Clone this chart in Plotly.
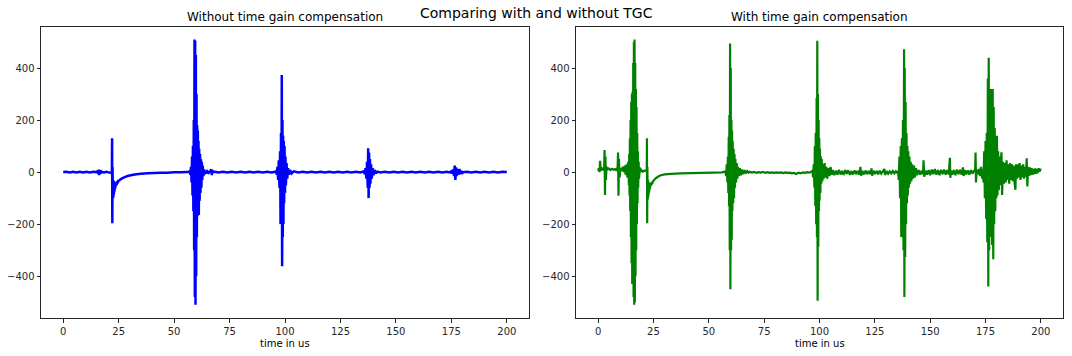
import plotly.graph_objects as go

# ================= Without TGC (blue) =================
blue_t_start = [0, 1.5, 3, 4.5, 6, 7.5, 9, 10.5, 12, 13.5, 15]
blue_v_start = [0, 1, -1, 1, -1, 1, -1, 1, -1, 1, 0]

blue_t_e16 = [15.5, 15.8, 16.0, 16.2, 16.4, 16.6, 16.8, 17.0, 17.3, 17.6, 18.5, 19.5, 20.5, 21.5]
blue_v_e16 = [3, -6, 10, -12, 9, -8, 6, -4, 2, 0, -1, 1, -1, -3]

blue_t_e22 = [21.95, 22.05, 22.15, 22.25, 22.35, 22.45, 22.55, 22.65, 22.75, 22.85, 22.95, 23.1,
              23.25, 23.4, 23.55, 23.7, 23.9, 24.1, 24.3, 24.5, 24.75, 25, 26, 27, 28, 29, 31,
              33, 35, 38, 41, 44, 47, 50, 53, 56]
blue_v_e22 = [0, 130, -197, 20, -60, -100, -30, -95, -35, -85, -38, -75,
              -40, -65, -40, -55, -38, -50, -36, -44, -34, -34, -27, -22, -18, -15, -11,
              -8, -6, -4, -3, -2, -2, -1, -1, 0]

blue_t_e60 = [57.0, 57.3, 57.6, 57.9, 58.1, 58.3, 58.5, 58.7, 58.9, 59.05, 59.2, 59.35, 59.5,
              59.65, 59.8, 59.95, 60.1, 60.25, 60.4, 60.55, 60.7, 60.85, 61.0, 61.15, 61.3,
              61.5, 61.7, 61.9, 62.1, 62.3, 62.5, 62.7, 62.9, 63.2, 63.5, 63.8, 64.2, 64.6,
              65.0, 65.6, 66.2, 66.8, 67.0, 67.2, 67.5]
blue_v_e60 = [3, -10, 20, -40, 60, -90, 100, -150, 200, -300, 510, -480, 505,
              -510, 450, -400, 300, -250, 180, -170, 160, -120, 120, -165, 90,
              -110, 70, -80, 50, -60, 40, -30, 25, -15, 10, -8, 6, -5,
              3, -3, 3, 10, -12, 8, 0]

blue_t_q1 = [68.5, 70, 72, 74, 76, 78, 80, 82, 84, 86, 88, 90, 92, 94, 95.5]
blue_v_q1 = [1, -1, 1, -1, 1, -1, 1, -1, 1, -1, 1, -1, 1, -1, 1]

blue_t_e99 = [96.0, 96.3, 96.6, 96.9, 97.2, 97.5, 97.8, 98.0, 98.2, 98.4, 98.55, 98.7, 98.85,
              99.0, 99.15, 99.3, 99.45, 99.6, 99.8, 100.0, 100.2, 100.4, 100.7, 101.0, 101.4,
              101.8, 102.3, 103.0, 104.0]
blue_v_e99 = [5, -10, 20, -30, 45, -60, 80, -200, 150, -150, 373, -362, 200,
              -250, 140, -200, 120, -120, 100, -80, 60, -50, 35, -25, 15,
              -10, 8, -5, 3]

blue_t_q2 = [106, 108, 110, 112, 114, 116, 118, 120, 122, 124, 126, 128, 130, 132, 134]
blue_v_q2 = [-1, 1, -1, 1, -1, 1, -1, 1, -1, 1, -1, 1, -1, 1, -1]

blue_t_e138 = [135.5, 135.9, 136.3, 136.7, 137.0, 137.3, 137.5, 137.7, 137.9, 138.1, 138.3,
               138.5, 138.8, 139.1, 139.5, 139.9, 140.4, 141.0, 141.6]
blue_v_e138 = [3, -8, 15, -25, 40, -60, 92, -100, 75, -60, 50,
               -45, 30, -25, 15, -12, 8, -5, 2]

blue_t_q3 = [143, 145, 147, 149, 151, 153, 155, 157, 159, 161, 163, 165, 167, 169, 171, 173, 174.3]
blue_v_q3 = [-1, 1, -1, 1, -1, 1, -1, 1, -1, 1, -1, 1, -1, 1, -1, 1, -1]

blue_t_e177 = [174.8, 175.3, 175.8, 176.2, 176.5, 176.8, 177.1, 177.4, 177.8, 178.2, 178.6,
               179.0, 179.5, 180.0, 180.5]
blue_v_e177 = [2, -5, 10, -15, 25, -30, 18, -15, 12, -10, 12,
               -8, 5, -3, 0]

blue_t_end = [182, 184, 186, 188, 190, 192, 194, 196, 198, 200]
blue_v_end = [1, -1, 1, -1, 1, -1, 1, -1, 1, 0]

# ================= With TGC (green) =================
green_t_start = [0, 0.3, 0.6, 0.9, 1.2, 1.5, 1.9, 2.3, 2.7, 2.9, 3.1, 3.3, 3.5, 3.8, 4.2, 4.8,
                 5.5, 6.2, 7.0, 7.8, 8.4, 8.8, 9.0, 9.2, 9.4, 9.7, 10.1, 10.6, 11.1, 11.6,
                 12.0, 12.4, 12.8, 13.2, 13.6]
green_v_start = [5, 15, 0, 43, 5, 18, 8, 14, 6, 85, -88, 60, -30, 20, 10, 14,
                 8, 13, 9, 12, 5, 20, 75, -91, 50, -20, 15, 5, 20, 0,
                 25, -10, 30, -20, 40]

green_t_e16 = [13.9, 14.05, 14.2, 14.35, 14.5, 14.65, 14.8, 14.95, 15.1, 15.25, 15.4, 15.55,
               15.7, 15.85, 16.0, 16.15, 16.3, 16.45, 16.6, 16.75, 16.9, 17.05, 17.2, 17.35,
               17.5, 17.65, 17.8, 17.95, 18.1, 18.3, 18.5, 18.8, 19.1, 19.5, 20.2, 21.0, 21.8]
green_v_e16 = [-50, 70, -90, 130, -150, 200, -250, 270, -350, 300, -430, 310,
               -400, 420, -480, 500, -510, 510, -500, 420, -400, 320, -300, 250,
               -200, 150, -120, 80, -60, 40, -25, 18, 0, 8, 2, 6, 3]

green_t_e22 = [21.95, 22.05, 22.15, 22.25, 22.35, 22.45, 22.55, 22.65, 22.75, 22.85, 22.95,
               23.1, 23.25, 23.4, 23.55, 23.7, 23.9, 24.1, 24.3, 24.5, 24.75, 25, 26, 27, 28,
               30, 33, 37, 42, 47, 52, 56]
green_v_e22 = [2, 130, -197, 20, -60, -105, -30, -95, -40, -85, -40,
               -75, -42, -65, -42, -55, -40, -50, -38, -44, -35, -33, -24, -18, -13,
               -9, -7, -5, -4, -3, -2, -1]

green_t_e60 = [57.5, 57.8, 58.1, 58.4, 58.6, 58.8, 59.0, 59.15, 59.3, 59.45, 59.6, 59.75,
               59.9, 60.05, 60.2, 60.35, 60.5, 60.65, 60.8, 61.0, 61.2, 61.4, 61.6, 61.8,
               62.0, 62.3, 62.6, 62.9, 63.2, 63.6, 64.0, 64.5, 65.0, 65.6, 66.2, 66.8,
               67.4, 68.0]
green_v_e60 = [3, -15, 30, -40, 60, -80, 136, -130, 220, -300, 495, -450,
               400, -300, 200, -260, 160, -150, 120, -120, 90, -100, 70, -60,
               50, -40, 35, -25, 20, -15, 15, -12, 10, -8, 8, -5,
               4, -2]

green_t_q1 = [68.5, 69.5, 70.5, 71.5, 72.5, 73.5, 74.5, 75.5, 76.5, 77.5, 78.5, 79.5, 80.5,
              81.5, 82.5, 83.5, 84.5, 85.5, 86.5, 87.5, 88.5, 89.5, 90.5, 91.5, 92.5, 93.5,
              94.5, 95.5, 96.3]
green_v_q1 = [1, -2, 1, -3, 0, -2, 1, -3, 0, -3, -1, -3, -1,
              -3, -1, -4, -1, -3, -2, -5, -3, -7, -2, -5, -1, -3,
              0, -2, 2]

green_t_e99 = [96.8, 97.1, 97.4, 97.7, 97.9, 98.1, 98.3, 98.5, 98.7, 98.85, 99.0, 99.15,
               99.3, 99.45, 99.6, 99.75, 99.9, 100.05, 100.2, 100.4, 100.6, 100.8, 101.0,
               101.3, 101.6, 101.9, 102.3, 102.7, 103.1, 103.5, 104.0, 104.5, 105.0, 105.5]
green_v_e99 = [5, -20, 30, -60, 100, -130, 150, -200, 285, -250, 505, -495,
               300, -287, 200, -150, 130, -110, 90, -80, 60, -45, 50,
               -35, 30, -25, 35, -20, 20, -25, 15, -15, 20, -10]

green_t_q2 = [106, 106.7, 107.4, 108.1, 108.8, 109.5, 110.2, 110.9, 111.6, 112.3, 113, 113.7,
              114.4, 115.1, 115.8, 116.5, 117.2, 117.9, 118.5, 118.8, 119.4, 120.1, 120.8,
              121.5, 122.2, 122.9, 123.5, 123.8, 124.4, 125.1, 125.8, 126.5, 127.2, 127.9,
              128.6, 129.3, 129.6, 130.3, 131, 131.7, 132.4, 133.1, 133.8, 134.5, 135.2]
green_v_q2 = [8, -12, 6, -10, 9, -9, 5, -11, 8, -7, 7, -10,
              4, -9, 6, -8, 5, -9, 20, -14, 5, -9, 6,
              -8, 4, -7, 14, -14, 5, -7, 4, -8, 5, -6,
              3, 12, -11, 4, -6, 3, -5, 4, -5, 3, -4]

green_t_e138 = [135.5, 135.8, 136.1, 136.4, 136.7, 136.95, 137.2, 137.45, 137.7, 137.95, 138.2,
                138.35, 138.5, 138.7, 138.9, 139.1, 139.3, 139.5, 139.7, 139.9, 140.1, 140.35,
                140.6, 140.9, 141.2, 141.5, 141.9, 142.3, 142.7, 143.1, 143.6, 144.1]
green_v_e138 = [5, -30, 60, -100, 100, -250, 130, -200, 200, -300, 472,
                -480, 400, -326, 270, -200, 150, -120, 100, -90, 80, -60,
                60, -45, 40, -35, 30, -25, 25, -20, 15, -12]

green_t_q3 = [144.8, 145.5, 146.2, 146.8, 147.0, 147.3, 147.9, 148.6, 149.3, 150, 150.7, 151.4,
              152.1, 152.8, 153.5, 154.2, 154.9, 155.6, 156.3, 157, 157.7, 158.4, 158.9,
              159.1, 159.4, 160, 160.7, 161.4, 162.1, 162.8, 163.5, 164.2, 164.8, 165.1,
              165.6, 166.3, 167, 167.7, 168.4, 169.1, 169.8, 170.3, 170.5, 170.7, 171,
              171.5, 172, 172.5, 173, 173.5]
green_v_q3 = [8, -10, 6, -8, 45, -18, 6, -10, 8, -12, 10, -8,
              12, -10, 8, -12, 9, -8, 10, -10, 8, -9, 55,
              -22, 6, -10, 8, -12, 10, -8, 9, -10, 18, -15,
              8, -9, 7, -10, 8, -6, 5, 5, 75, -40, 10,
              -8, 12, -15, 20, -25]

green_t_e177 = [173.8, 174.1, 174.4, 174.7, 175.0, 175.3, 175.55, 175.8, 176.05, 176.25, 176.45,
                176.65, 176.85, 177.05, 177.25, 177.5, 177.75, 178.0, 178.25, 178.5, 178.7,
                178.9, 179.15, 179.4, 179.65, 179.9, 180.15, 180.4, 180.7, 181.0, 181.3,
                181.6, 181.9]
green_v_e177 = [10, -40, 80, -100, 120, -180, 150, -270, 360, -440, 440,
                -300, 250, -200, 320, -250, 200, -280, 320, -335, 250,
                -200, 170, -150, 120, -100, 140, -90, 80, -70, 60,
                -50, 40]

green_t_end = [182.2, 182.5, 182.9, 183.3, 183.7, 184.1, 184.5, 184.9, 185.3, 185.7, 186.1,
               186.5, 186.9, 187.3, 187.7, 188.1, 188.5, 188.8, 189.2, 189.6, 190, 190.4,
               190.8, 191.2, 191.6, 192, 192.4, 192.8, 193.2, 193.6, 193.9, 194.2, 194.6,
               195, 195.4, 195.8, 196.2, 196.6, 197, 197.4, 197.8, 198.2, 198.6, 199,
               199.4, 199.8, 200]
green_v_end = [76, -88, 40, -45, 35, -40, 45, -30, 30, -45, 35,
               -30, 30, -35, 25, -40, -68, 30, -25, 30, -20, 35,
               -30, 25, -20, 30, -25, 20, -18, 53, -55, 20, -15,
               18, -12, 15, -10, 12, -8, 14, -6, 12, -4, 15,
               2, 12, 8]

x_ticks = [0, 25, 50, 75, 100, 125, 150, 175, 200]
y_ticks = [-400, -200, 0, 200, 400]

suptitle = "Comparing with and without TGC"
left_title = "Without time gain compensation"
right_title = "With time gain compensation"
x_label = "time in us"


def cat(*parts):
    out = []
    for p in parts:
        out += list(p)
    return out


blue_t = cat(blue_t_start, blue_t_e16, blue_t_e22, blue_t_e60, blue_t_q1, blue_t_e99,
             blue_t_q2, blue_t_e138, blue_t_q3, blue_t_e177, blue_t_end)
blue_v = cat(blue_v_start, blue_v_e16, blue_v_e22, blue_v_e60, blue_v_q1, blue_v_e99,
             blue_v_q2, blue_v_e138, blue_v_q3, blue_v_e177, blue_v_end)
green_t = cat(green_t_start, green_t_e16, green_t_e22, green_t_e60, green_t_q1, green_t_e99,
              green_t_q2, green_t_e138, green_t_q3, green_t_e177, green_t_end)
green_v = cat(green_v_start, green_v_e16, green_v_e22, green_v_e60, green_v_q1, green_v_e99,
              green_v_q2, green_v_e138, green_v_q3, green_v_e177, green_v_end)

W, H = 1072, 356
FONT = "DejaVu Sans"

fig = go.Figure()
fig.add_trace(go.Scatter(x=blue_t, y=blue_v, mode="lines",
                         line=dict(color="#0000ff", width=2.5, simplify=False),
                         xaxis="x", yaxis="y", hoverinfo="skip"))
fig.add_trace(go.Scatter(x=green_t, y=green_v, mode="lines",
                         line=dict(color="#008000", width=2.2, simplify=False),
                         xaxis="x2", yaxis="y2", hoverinfo="skip"))

def px_x(p):
    return p / W

def px_y(p):
    return 1 - p / H

axis_common = dict(showline=True, mirror=True, linecolor="#262626", linewidth=1,
                   ticks="outside", ticklen=3.5, tickwidth=1, tickcolor="#262626",
                   showgrid=False, zeroline=False,
                   tickfont=dict(family=FONT, size=10, color="#262626"))

ydom = [px_y(318), px_y(27)]
fig.update_layout(
    width=W, height=H, autosize=False,
    margin=dict(l=0, r=0, t=0, b=0, pad=0),
    paper_bgcolor="white", plot_bgcolor="white",
    showlegend=False,
    font=dict(family=FONT, size=10, color="#262626"),
    xaxis=dict(domain=[px_x(41), px_x(529)], range=[-10, 210], tickvals=x_ticks,
               anchor="y", **axis_common),
    yaxis=dict(domain=ydom, range=[-561, 558], tickvals=y_ticks, anchor="x", **axis_common),
    xaxis2=dict(domain=[px_x(576), px_x(1063)], range=[-10, 210], tickvals=x_ticks,
                anchor="y2", **axis_common),
    yaxis2=dict(domain=ydom, range=[-561, 558], tickvals=y_ticks, anchor="x2", **axis_common),
    annotations=[
        dict(text=suptitle, x=0.5, y=px_y(13), xref="paper", yref="paper",
             xanchor="center", yanchor="middle", showarrow=False,
             font=dict(family=FONT, size=14, color="black")),
        dict(text=left_title, x=px_x(285), y=px_y(17), xref="paper", yref="paper",
             xanchor="center", yanchor="middle", showarrow=False,
             font=dict(family=FONT, size=12, color="black")),
        dict(text=right_title, x=px_x(819.5), y=px_y(17), xref="paper", yref="paper",
             xanchor="center", yanchor="middle", showarrow=False,
             font=dict(family=FONT, size=12, color="black")),
        dict(text=x_label, x=px_x(285), y=px_y(343), xref="paper", yref="paper",
             xanchor="center", yanchor="middle", showarrow=False,
             font=dict(family=FONT, size=10, color="black")),
        dict(text=x_label, x=px_x(819.5), y=px_y(343), xref="paper", yref="paper",
             xanchor="center", yanchor="middle", showarrow=False,
             font=dict(family=FONT, size=10, color="black")),
    ],
)

fig.write_html("out.html")
